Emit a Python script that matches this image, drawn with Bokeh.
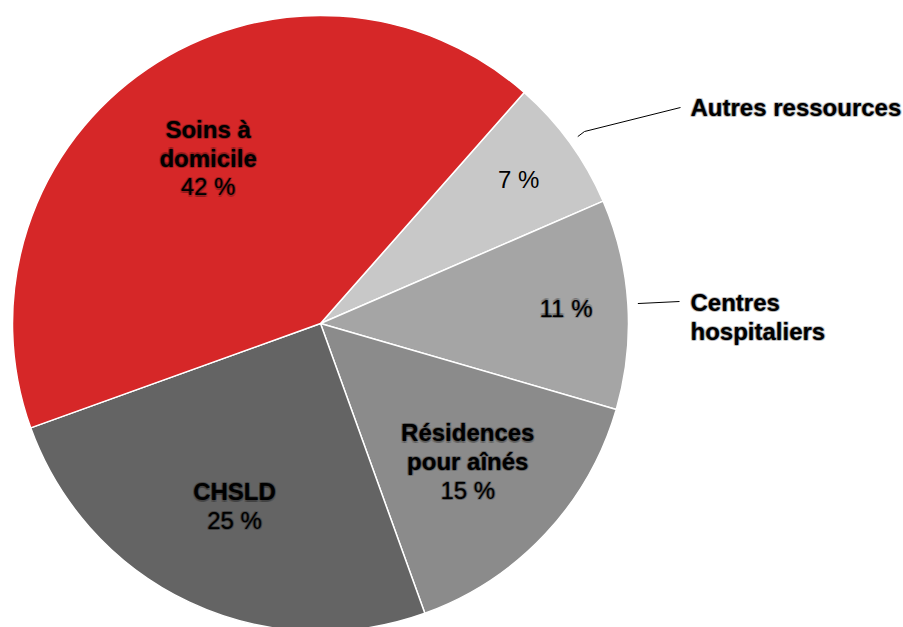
import math
from bokeh.plotting import figure
from bokeh.models import Range1d, ColumnDataSource
from bokeh.embed import file_html
from bokeh.resources import INLINE
from bokeh.core.properties import value

# Data (clockwise order starting at the top-right boundary)
categories = ["Autres ressources", "Centres hospitaliers", "Résidences pour aînés", "CHSLD", "Soins à domicile"]
shares = [7, 11, 15, 25, 42]
pct_labels = ["7 %", "11 %", "15 %", "25 %", "42 %"]
colors = ["#c8c8c8", "#a5a5a5", "#8b8b8b", "#646464", "#d62728"]

W, H = 903, 627
FONT = value("Liberation Sans")
FS = "24px"
LH = 28.8

def sx(x):  # screen x -> plot x
    return x

def sy(y):  # screen y -> plot y
    return H - y

cx, cy, R = sx(320), sy(323), 308
start_cw = 41.4  # degrees clockwise from 12 o'clock

p = figure(width=W, height=H, x_range=Range1d(0, W), y_range=Range1d(0, H),
           output_backend="svg", toolbar_location=None, min_border=0)
p.axis.visible = False
p.grid.visible = False
p.outline_line_color = None
p.background_fill_color = "white"

total = sum(shares)
starts, ends, mids = [], [], []
acc = 0.0
for s in shares:
    a0 = start_cw + acc * 360 / total
    a1 = start_cw + (acc + s) * 360 / total
    starts.append(math.radians(90 - a0))
    ends.append(math.radians(90 - a1))
    mids.append((a0 + a1) / 2)
    acc += s

src = ColumnDataSource(dict(start=starts, end=ends, color=colors))
p.wedge(x=cx, y=cy, radius=R, start_angle="start", end_angle="end", direction="clock",
        fill_color="color", line_color="white", line_width=1.5, source=src)

def polar(angle_cw, r):
    a = math.radians(angle_cw)
    return cx + r * math.sin(a), cy + r * math.cos(a)

SHADOW = [(dx, dy) for dx in (-1.2, 0, 1.2) for dy in (-1.2, 0, 1.2) if (dx, dy) != (0, 0)]

def label(xs, ys, texts, bold, align="center", glow=True):
    style = "bold" if bold else "normal"
    if glow:
        for dx, dy in SHADOW:
            p.text(x=[x + dx for x in xs], y=[y + dy for y in ys], text=texts, text_font=FONT,
                   text_font_size=FS, text_font_style=style, text_align=align,
                   text_baseline="middle", text_color="black", text_alpha=0.12)
    p.text(x=xs, y=ys, text=texts, text_font=FONT, text_font_size=FS, text_font_style=style,
           text_align=align, text_baseline="middle", text_color="black")

# inside labels: (name lines, radius, glow)
inside = {
    2: (["Résidences", "pour aînés"], 202, True),
    3: (["CHSLD"], 202, True),
    4: (["Soins à", "domicile"], 200, True),
    1: ([], 246, True),
    0: ([], 245, False),
}
for i, (names, r, glow) in inside.items():
    x, y = polar(mids[i], r)
    lines = names + [pct_labels[i]]
    n = len(lines)
    for k, t in enumerate(lines):
        yy = y - (k - (n - 1) / 2) * LH
        label([x], [yy], [t], bold=k < len(names), glow=glow)

# outside labels with leader lines
x0, y0 = polar(mids[0], 318)
p.line(x=[x0, sx(584), sx(680)], y=[y0, sy(131), sy(107)], line_color="black", line_width=1)
label([sx(690)], [sy(107)], ["Autres ressources"], bold=True, align="left")

x1, y1 = polar(mids[1], 318)
p.line(x=[x1, sx(679)], y=[y1, sy(301)], line_color="black", line_width=1)
label([sx(690), sx(690)], [sy(302), sy(302 + LH)], ["Centres", "hospitaliers"], bold=True, align="left")

open("out.html", "w").write(file_html(p, INLINE))
